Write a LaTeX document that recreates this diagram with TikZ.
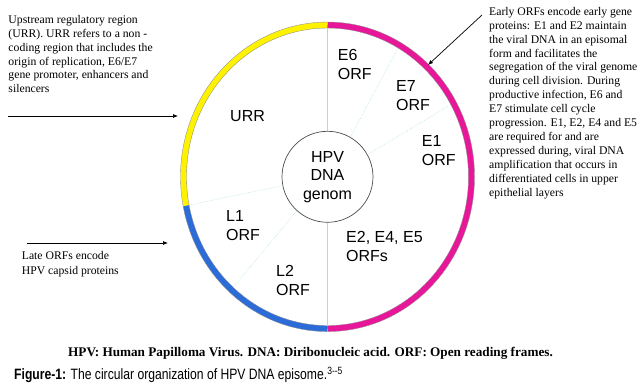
\documentclass[tikz,border=0pt]{standalone}
\usepackage{fontspec}
\setmainfont{Liberation Serif}
\newfontfamily\labelfont{Liberation Sans}
\newfontfamily\capfont[FakeStretch=0.81]{Liberation Sans}
\usepackage{tikz}
\usetikzlibrary{arrows.meta, calc}
\definecolor{urrYellow}{HTML}{FFF200}
\definecolor{lateBlue}{HTML}{2B6CD9}
\definecolor{earlyPink}{HTML}{E8179A}
\definecolor{dividerLine}{HTML}{A8DDE2}

\begin{document}
\begin{tikzpicture}[
  x=1pt, y=1pt,
  note/.style={font=\fontsize{11.7}{13.9}\selectfont, align=left, inner sep=0pt, anchor=north west},
  orf/.style={font=\labelfont\fontsize{16}{19}\selectfont, align=left, inner sep=0pt, anchor=west},
  ring/.style={line width=6pt},
  rim/.style={draw=black!45, line width=0.35pt},
  divider/.style={draw=dividerLine, line width=0.5pt, densely dotted},
  a/.style={-{Latex[length=5pt,width=4pt]}, line width=0.7pt}
]
\useasboundingbox (0,0) rectangle (643,391);
\coordinate (C) at (327.5,214.2);
\draw[ring, urrYellow] ($(C)+(90:144 and 151.75)$) arc[start angle=90, end angle=191, x radius=144, y radius=151.75];
\draw[ring, lateBlue] ($(C)+(191:144 and 151.75)$) arc[start angle=191, end angle=270, x radius=144, y radius=151.75];
\draw[ring, earlyPink] ($(C)+(270:144 and 151.75)$) arc[start angle=270, end angle=450, x radius=144, y radius=151.75];
\draw[rim] (C) ellipse[x radius=147, y radius=154.75];
\draw[rim] (C) ellipse[x radius=141, y radius=148.75];
\node[draw=black!70, line width=0.7pt, circle, minimum size=91pt, inner sep=0pt, align=center,
      font=\labelfont\fontsize{16}{18.5}\selectfont] (genome) at (C) {HPV\\DNA\\genom};
\foreach \ang in {60,29,191,228}
  \draw[divider] (genome.\ang) -- ($(C)+(\ang:141 and 148.75)$);
\foreach \ang in {90,270}
  \draw[divider, solid] (genome.\ang) -- ($(C)+(\ang:141 and 148.75)$);
\node[orf] (urr) at (230,275.3) {URR};
\node[orf] (e6) at (337.7,327) {E6\\ORF};
\node[orf] (e7) at (396,295.5) {E7\\ORF};
\node[orf] (e1) at (421.7,240.5) {E1\\ORF};
\node[orf] (l1) at (226,165.5) {L1\\ORF};
\node[orf] (l2) at (276,110.5) {L2\\ORF};
\node[orf] (e245) at (346,144.7) {E2, E4, E5\\ORFs};
\node[note] (urrnote) at (8.3,376) {Upstream regulatory region\\(URR). URR refers to a non -\\coding region that includes the\\origin of replication, E6/E7\\gene promoter, enhancers and\\silencers};
\node[note] (earlynote) at (489,384) {Early ORFs encode early gene\\proteins: E1 and E2 maintain\\the viral DNA in an episomal\\form and facilitates the\\segregation of the viral genome\\during cell division. During\\productive infection, E6 and\\E7 stimulate cell cycle\\progression. E1, E2, E4 and E5\\are required for and are\\expressed during, viral DNA\\amplification that occurs in\\differentiated cells in upper\\epithelial layers};
\node[note, font=\fontsize{11.7}{15.5}\selectfont] (latenote) at (21.7,140.3) {Late ORFs encode\\HPV capsid proteins};
\coordinate (urrtail) at (8,275);
\coordinate (urrtip) at (178,275);
\coordinate (latetail) at (27,148);
\coordinate (latetip) at (168,148);
\coordinate (earlytail) at (482,376);
\coordinate (earlytip) at (428,326);
\draw[a] (urrtail) -- (urrtip);
\draw[a] (latetail) -- (latetip);
\draw[a] (earlytail) -- (earlytip);
\node[anchor=base, inner sep=0pt, font=\bfseries\fontsize{13.2}{15}\selectfont] (abbrev) at (310.5,34)
  {HPV: Human Papilloma Virus. DNA: Diribonucleic acid. ORF: Open reading frames.};
\node[anchor=base west, inner sep=0pt, font=\capfont\fontsize{15}{17}\selectfont] (caption) at (14,11)
  {\textbf{Figure-1:} The circular organization of HPV DNA episome.\textsuperscript{3--5}};
\end{tikzpicture}
\end{document}
